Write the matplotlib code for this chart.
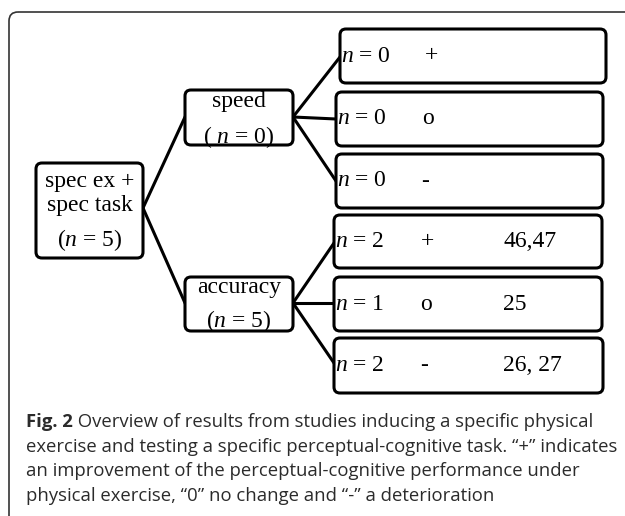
import matplotlib.pyplot as plt
from matplotlib.patches import FancyBboxPatch

# tree content
root_label = ["spec ex +", "spec task", "($n$ = 5)"]
mid_labels = ["speed", "accuracy"]
mid_counts = ["( $n$ = 0)", "($n$ = 5)"]
leaf_counts = [0, 0, 0, 2, 1, 2]
leaf_signs = ["+", "o", "-", "+", "o", "-"]
leaf_refs = ["", "", "", "46,47", "25", "26, 27"]

caption_bold = "Fig. 2"
caption_lines = [
    " Overview of results from studies inducing a specific physical",
    "exercise and testing a specific perceptual-cognitive task. \u201c+\u201d indicates",
    "an improvement of the perceptual-cognitive performance under",
    "physical exercise, \u201c0\u201d no change and \u201c-\u201d a deterioration",
]

plt.rcParams["mathtext.fontset"] = "custom"
plt.rcParams["mathtext.it"] = "Liberation Serif:italic"
plt.rcParams["mathtext.rm"] = "Liberation Serif"

fig = plt.figure(figsize=(6.25, 5.16), dpi=100)
ax = fig.add_axes([0, 0, 1, 1])
ax.set_xlim(0, 625)
ax.set_ylim(516, 0)
ax.axis("off")

serif = "Liberation Serif"
fs = 17


def box(x0, y0, x1, y1, lw=2.2):
    ax.add_patch(FancyBboxPatch((x0, y0), x1 - x0, y1 - y0,
                                boxstyle="round,pad=0,rounding_size=6",
                                fc="white", ec="black", lw=lw, zorder=2))


# outer frame (open to the right / bottom)
ax.add_patch(FancyBboxPatch((9, 12), 660, 540,
                            boxstyle="round,pad=0,rounding_size=9",
                            fc="none", ec="#333333", lw=1.2, clip_on=False))

# connectors
lines = [((143, 208), (185, 117)), ((143, 208), (185, 303)),
         ((293, 117), (340, 57)), ((293, 117), (336, 119)), ((293, 117), (336, 181)),
         ((293, 303), (334, 243)), ((293, 303), (334, 303)), ((293, 303), (334, 363))]
for (xa, ya), (xb, yb) in lines:
    ax.plot([xa, xb], [ya, yb], color="black", lw=2.2, zorder=1)

# root
box(36, 163, 143, 258)
for txt, y in zip(root_label, [182, 206, 240]):
    ax.text(90, y, txt, family=serif, fontsize=fs, ha="center", va="center", zorder=3)

# middle boxes (text spills over the borders, as in the original)
mid_boxes = [(185, 90, 293, 145), (185, 277, 293, 331)]
mid_top = [12, 10]
mid_bot = [8, 10]
for (x0, y0, x1, y1), lab, cnt, dt, db in zip(mid_boxes, mid_labels, mid_counts, mid_top, mid_bot):
    box(x0, y0, x1, y1)
    ax.text(239, y0 + dt, lab, family=serif, fontsize=fs, ha="center", va="center", zorder=3)
    ax.text(239, y1 - db, cnt, family=serif, fontsize=fs, ha="center", va="center", zorder=3)

# leaves
leaf_boxes = [(340, 29, 606, 83), (336, 92, 603, 146), (336, 154, 603, 208),
              (334, 215, 602, 268), (334, 277, 602, 331), (334, 338, 603, 393)]
sign_x = [432, 428, 425, 428, 426, 424]
for (x0, y0, x1, y1), n, s, r, sx in zip(leaf_boxes, leaf_counts, leaf_signs, leaf_refs, sign_x):
    box(x0, y0, x1, y1)
    yc = (y0 + y1) / 2
    ax.text(x0 + 1, yc, f"$n$ = {n}", family=serif, fontsize=fs, ha="left", va="center", zorder=3)
    ax.text(sx, yc, s, family=serif, fontsize=fs, ha="center", va="center", zorder=3)
    ax.text(503, yc, r, family=serif, fontsize=fs, ha="left", va="center", zorder=3)

# caption
cap_fs = 13.3
cap_col = "#2b2b2b"
cap_y = [422, 447, 471, 496]
t = ax.text(26, cap_y[0], caption_bold, family="Open Sans", fontweight="bold",
            fontsize=cap_fs, ha="left", va="center", color=cap_col)
fig.canvas.draw()
bb = t.get_window_extent(renderer=fig.canvas.get_renderer())
x_after = ax.transData.inverted().transform((bb.x1, bb.y0))[0]
ax.text(x_after, cap_y[0], caption_lines[0], family="Open Sans",
        fontsize=cap_fs, ha="left", va="center", color=cap_col)
for line, y in zip(caption_lines[1:], cap_y[1:]):
    ax.text(26, y, line, family="Open Sans", fontsize=cap_fs, ha="left", va="center", color=cap_col)

fig.savefig("out.png", dpi=100)
